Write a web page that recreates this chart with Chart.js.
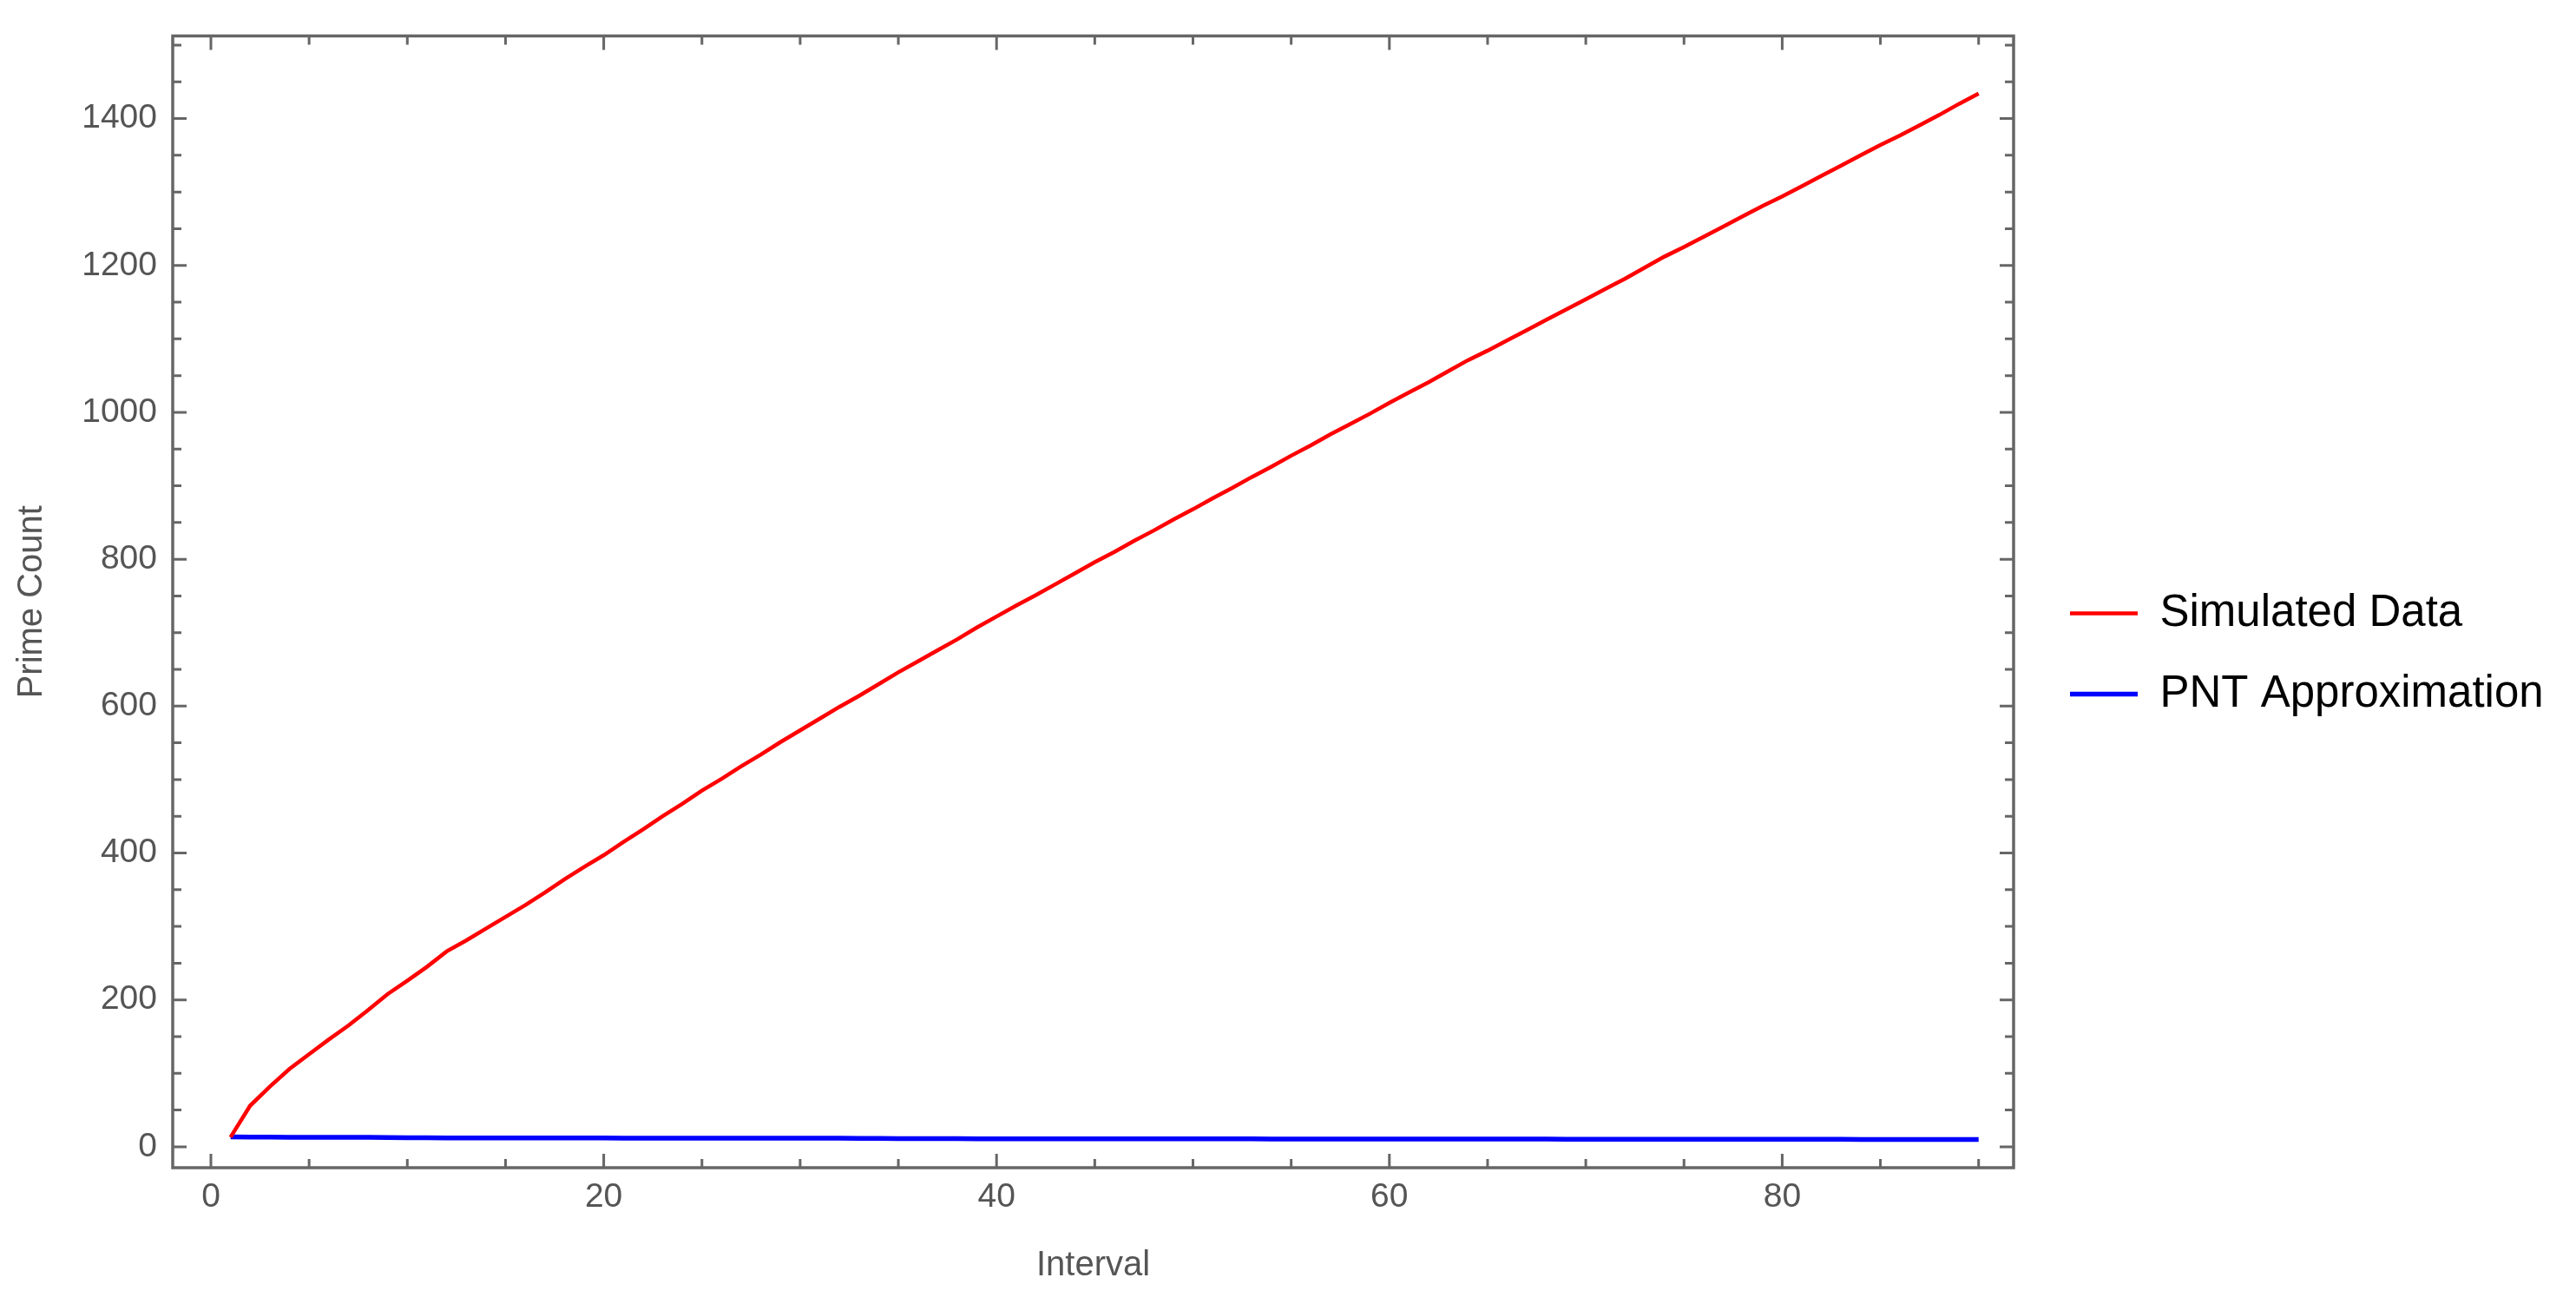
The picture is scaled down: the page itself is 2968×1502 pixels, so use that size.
<!DOCTYPE html>
<html><head><meta charset="utf-8">
<script src="https://cdn.jsdelivr.net/npm/chart.js@4/dist/chart.umd.min.js"></script>
<style>html,body{margin:0;padding:0;background:#fff;}#wrap{width:2968px;height:1502px;}</style>
</head><body><div id="wrap"><canvas id="c" width="2968" height="1502"></canvas></div>
<script>
const intervals = [1,2,3,4,5,6,7,8,9,10,11,12,13,14,15,16,17,18,19,20,21,22,23,24,25,26,27,28,29,30,
  31,32,33,34,35,36,37,38,39,40,41,42,43,44,45,46,47,48,49,50,51,52,53,54,55,56,57,58,59,60,
  61,62,63,64,65,66,67,68,69,70,71,72,73,74,75,76,77,78,79,80,81,82,83,84,85,86,87,88,89,90];
const simulatedData = [13,56,82,106,126,146,165,186,208,226,245,266,281,297,313,329,346,364,381,397,
  415,432,450,467,485,501,518,534,551,567,583,599,614,630,646,661,676,691,707,722,
  737,751,766,781,796,810,825,839,854,868,883,897,912,926,941,955,970,984,998,1013,
  1027,1041,1056,1071,1084,1098,1112,1126,1140,1154,1168,1182,1197,1212,1225,1239,1253,1267,1281,1294,
  1308,1322,1336,1350,1364,1377,1391,1405,1420,1434];
const pntApproximation = [13.4,13.2,13.1,13.0,12.9,12.9,12.8,12.8,12.7,12.2,12.2,12.1,12.1,12.1,12.0,12.0,12.0,11.9,11.9,11.9,
  11.8,11.8,11.8,11.8,11.7,11.7,11.7,11.7,11.6,11.6,11.6,11.6,11.5,11.5,11.0,11.0,11.0,11.0,10.9,10.9,
  10.9,10.9,10.9,10.8,10.8,10.8,10.8,10.8,10.7,10.7,10.7,10.7,10.7,10.6,10.6,10.6,10.6,10.6,10.5,10.5,
  10.5,10.5,10.5,10.4,10.4,10.4,10.4,10.4,10.3,10.3,10.3,10.3,10.3,10.2,10.2,10.2,10.2,10.2,10.1,10.1,
  10.1,10.1,10.1,10.0,10.0,10.0,10.0,10.0,9.9,9.9];
const xTickLabels = [0,20,40,60,80];
const yTickLabels = [0,200,400,600,800,1000,1200,1400];
const xMinorTicks = [5,10,15,25,30,35,45,50,55,65,70,75,85,90];
const yMinorTicks = [50,100,150,250,300,350,450,500,550,650,700,750,850,900,950,1050,1100,1150,1250,1300,1350,1450,1500];

const FONT = "'Liberation Sans', Arial, sans-serif";
const GRAY = '#555';

const frameTicks = {
  id: 'frameTicks',
  afterDraw(chart) {
    const {ctx, chartArea: a, scales: {x, y}} = chart;
    ctx.save();
    ctx.strokeStyle = '#666';
    ctx.lineCap = 'butt';
    ctx.lineWidth = 3;
    ctx.beginPath();
    const xt = (v, len) => {
      const p = x.getPixelForValue(v);
      ctx.moveTo(p, a.bottom); ctx.lineTo(p, a.bottom - len);
      ctx.moveTo(p, a.top); ctx.lineTo(p, a.top + len);
    };
    const yt = (v, len) => {
      const p = y.getPixelForValue(v);
      ctx.moveTo(a.left, p); ctx.lineTo(a.left + len, p);
      ctx.moveTo(a.right, p); ctx.lineTo(a.right - len, p);
    };
    xTickLabels.forEach(v => xt(v, 16));
    xMinorTicks.forEach(v => xt(v, 10));
    yTickLabels.forEach(v => yt(v, 16));
    yMinorTicks.forEach(v => yt(v, 10));
    ctx.stroke();
    ctx.lineWidth = 3.5;
    ctx.strokeRect(a.left, a.top, a.right - a.left, a.bottom - a.top);
    ctx.restore();
  }
};

const legendPlace = {
  id: 'legendPlace',
  afterLayout(chart) {
    const l = chart.legend;
    if (!l) return;
    l.left = 2343; l.right = 2968; l.top = 639; l.bottom = 1502;
    l.width = l.right - l.left; l.height = l.bottom - l.top;
  }
};

new Chart(document.getElementById('c'), {
  type: 'line',
  data: {
    datasets: [
      {
        label: 'Simulated Data',
        data: intervals.map((v, i) => ({x: v, y: simulatedData[i]})),
        borderColor: '#ff0000',
        backgroundColor: '#ff0000',
        borderWidth: 4.5,
        pointRadius: 0,
        pointStyle: 'line',
        tension: 0,
        fill: false
      },
      {
        label: 'PNT Approximation',
        data: intervals.map((v, i) => ({x: v, y: pntApproximation[i]})),
        borderColor: '#0000ff',
        backgroundColor: '#0000ff',
        borderWidth: 5.5,
        pointRadius: 0,
        pointStyle: 'line',
        tension: 0,
        fill: false
      }
    ]
  },
  options: {
    responsive: false,
    animation: false,
    devicePixelRatio: 1,
    layout: {padding: {left: 0, top: 31, right: 648, bottom: 0}},
    plugins: {
      tooltip: {enabled: false},
      legend: {
        display: true,
        position: 'chartArea',
        align: 'start',
        labels: {
          usePointStyle: true,
          pointStyleWidth: 78,
          padding: 42,
          color: '#000',
          font: {family: FONT, size: 51}
        }
      }
    },
    scales: {
      x: {
        type: 'linear',
        min: -1.944,
        max: 91.78,
        afterBuildTicks: s => { s.ticks = xTickLabels.map(v => ({value: v})); },
        afterFit: s => { s.height = 157; },
        grid: {display: false, drawTicks: false},
        border: {display: false},
        ticks: {color: GRAY, font: {family: FONT, size: 39}, padding: 11, maxRotation: 0, callback: v => String(v)},
        title: {display: true, text: 'Interval', color: GRAY, font: {family: FONT, size: 40}, padding: {top: 0, bottom: 20}}
      },
      y: {
        type: 'linear',
        min: -28.5,
        max: 1512.5,
        afterBuildTicks: s => { s.ticks = yTickLabels.map(v => ({value: v})); },
        afterFit: s => { s.width = 199; },
        grid: {display: false, drawTicks: false},
        border: {display: false},
        ticks: {color: GRAY, font: {family: FONT, size: 39}, padding: 18, callback: v => String(v)},
        title: {display: true, text: 'Prime Count', color: GRAY, font: {family: FONT, size: 40}, padding: {top: 13, bottom: 0}}
      }
    }
  },
  plugins: [frameTicks, legendPlace]
});
</script></body></html>
